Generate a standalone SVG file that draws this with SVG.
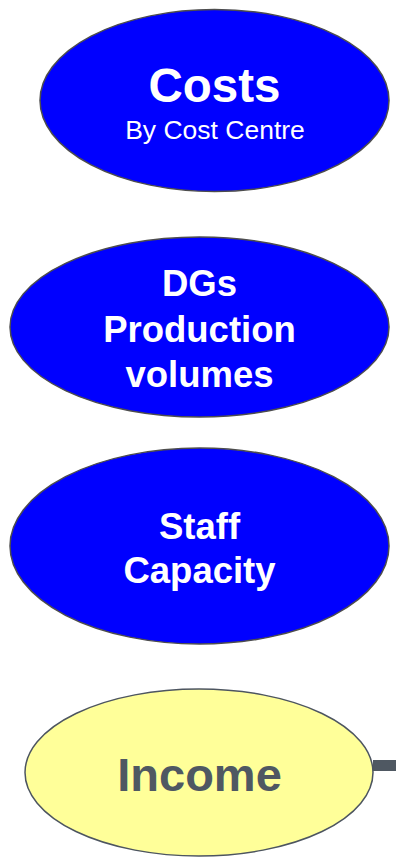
<svg xmlns="http://www.w3.org/2000/svg" width="396" height="865" viewBox="0 0 396 865">
<style>
.blue{fill:#0000ff;stroke:#4d4d4d;stroke-width:1.5}
.yel{fill:#ffff99;stroke:#4d5560;stroke-width:1.5}
.t{font-family:"Liberation Sans",Arial,sans-serif;font-weight:bold;fill:#ffffff;text-anchor:middle}
.s{font-family:"Liberation Sans",Arial,sans-serif;fill:#ffffff;text-anchor:middle}
.ti{font-family:"Liberation Sans",Arial,sans-serif;font-weight:bold;fill:#4f5862;text-anchor:middle}
</style>
<rect width="396" height="865" fill="#ffffff"/>
<g id="connectors">
<rect x="373" y="760" width="23" height="11" fill="#4f5862"/>
</g>
<g id="costs">
<ellipse class="blue" cx="214.5" cy="100.5" rx="174.5" ry="91"/>
<text class="t" x="214.5" y="102" font-size="47.5">Costs</text>
<text class="s" x="215" y="139" font-size="26.5">By Cost Centre</text>
</g>
<g id="dgs">
<ellipse class="blue" cx="199.5" cy="327" rx="189.5" ry="90"/>
<text class="t" x="199.5" y="296" font-size="36.5">DGs</text>
<text class="t" x="199.5" y="342" font-size="36.5">Production</text>
<text class="t" x="199.5" y="387" font-size="36.5">volumes</text>
</g>
<g id="staff">
<ellipse class="blue" cx="199.5" cy="546" rx="189.5" ry="98"/>
<text class="t" x="199.5" y="539" font-size="36.5">Staff</text>
<text class="t" x="199.5" y="583" font-size="36.5">Capacity</text>
</g>
<g id="income">
<ellipse class="yel" cx="199" cy="772.5" rx="174" ry="83.5"/>
<text class="ti" x="199.5" y="791" font-size="47">Income</text>
</g>
</svg>
